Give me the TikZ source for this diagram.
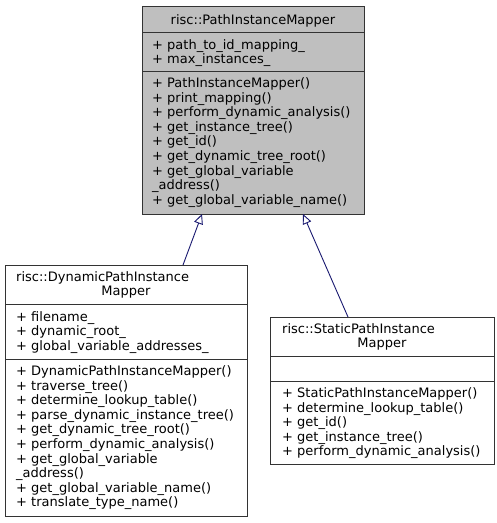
\documentclass[tikz,border=0pt]{standalone}
\usepackage{fontspec}
\setmainfont{DejaVu Sans}
\usetikzlibrary{arrows.meta,calc}
\definecolor{boxborder}{HTML}{333333}
\definecolor{basefill}{HTML}{BFBFBF}
\definecolor{edgeblue}{HTML}{191970}
\tikzset{
  umlbox/.style={draw=boxborder, line width=1pt, anchor=north west, inner sep=0pt, outer sep=0pt},
  sepline/.style={draw=boxborder, line width=1pt},
  membertext/.style={anchor=base west, inner sep=0pt, align=left, font=\fontsize{13}{14.6}\selectfont},
  titletext/.style={anchor=base, inner sep=0pt, font=\fontsize{13}{14.6}\selectfont},
  inherit/.style={draw=edgeblue, line width=0.9pt, -{Triangle[open, length=10pt, width=9pt]}}
}
\begin{document}
\begin{tikzpicture}[x=1pt,y=-1pt]
\useasboundingbox (0,0) rectangle (497,523);
% base class
\node[umlbox, fill=basefill, minimum width=222pt, minimum height=208pt] (pim) at (142,6) {};
\draw[sepline] ($(pim.north west)+(0,26)$) -- ($(pim.north east)+(0,26)$);
\draw[sepline] ($(pim.north west)+(0,65)$) -- ($(pim.north east)+(0,65)$);
\node[titletext] (pimtitle) at (253,24) {risc::PathInstanceMapper};
\node[membertext] (pimattr) at (152,63.6) {+ path\_to\_id\_mapping\_\\+ max\_instances\_};
\node[membertext] (pimops) at (152,204.3) {+ PathInstanceMapper()\\+ print\_mapping()\\+ perform\_dynamic\_analysis()\\+ get\_instance\_tree()\\+ get\_id()\\+ get\_dynamic\_tree\_root()\\+ get\_global\_variable\\\_address()\\+ get\_global\_variable\_name()};
% dynamic
\node[umlbox, fill=white, minimum width=242pt, minimum height=251pt] (dpim) at (5,265) {};
\draw[sepline] ($(dpim.north west)+(0,39)$) -- ($(dpim.north east)+(0,39)$);
\draw[sepline] ($(dpim.north west)+(0,94)$) -- ($(dpim.north east)+(0,94)$);
\node[membertext] (dpimtitle) at (16,281) {risc::DynamicPathInstance};
\node[titletext] (dpimtitleb) at (126,295.5) {Mapper};
\node[membertext] (dpimattr) at (16,350.2) {+ filename\_\\+ dynamic\_root\_\\+ global\_variable\_addresses\_};
\node[membertext] (dpimops) at (16,506.9) {+ DynamicPathInstanceMapper()\\+ traverse\_tree()\\+ determine\_lookup\_table()\\+ parse\_dynamic\_instance\_tree()\\+ get\_dynamic\_tree\_root()\\+ perform\_dynamic\_analysis()\\+ get\_global\_variable\\\_address()\\+ get\_global\_variable\_name()\\+ translate\_type\_name()};
% static
\node[umlbox, fill=white, minimum width=224pt, minimum height=147pt] (spim) at (270,317) {};
\draw[sepline] ($(spim.north west)+(0,39)$) -- ($(spim.north east)+(0,39)$);
\draw[sepline] ($(spim.north west)+(0,64)$) -- ($(spim.north east)+(0,64)$);
\node[membertext] (spimtitle) at (282,333) {risc::StaticPathInstance};
\node[titletext] (spimtitleb) at (382,347.5) {Mapper};
\node[membertext] (spimops) at (282,455.9) {+ StaticPathInstanceMapper()\\+ determine\_lookup\_table()\\+ get\_id()\\+ get\_instance\_tree()\\+ perform\_dynamic\_analysis()};
% inheritance
\draw[inherit] ($(dpim.north west)+(178,0)$) -- ($(pim.south west)+(60,0)$);
\draw[inherit] ($(spim.north west)+(78,0)$) -- ($(pim.south west)+(161,0)$);
\end{tikzpicture}
\end{document}
